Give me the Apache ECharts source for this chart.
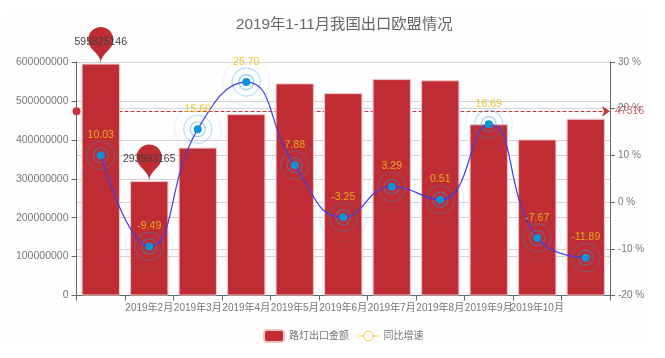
<!DOCTYPE html>
<html><head><meta charset="utf-8">
<script src="https://cdn.jsdelivr.net/npm/echarts@6/dist/echarts.min.js"></script>
<style>html,body{margin:0;padding:0;background:#fff}
#c{position:absolute;left:6px;top:10px;width:639px;height:333px;background:#fefefe}</style>
</head><body><div id="c"></div>
<script>
const categories = ['2019年1月','2019年2月','2019年3月','2019年4月','2019年5月','2019年6月','2019年7月','2019年8月','2019年9月','2019年10月','2019年11月'];
const exportValues = [595825146,293993165,380000000,466000000,545000000,520000000,556000000,553000000,440000000,401000000,454040000];
const growthValues = [10.03,-9.49,15.60,25.70,7.88,-3.25,3.29,0.51,16.69,-7.67,-11.89];
const barName = '路灯出口金额';
const lineName = '同比增速';
const font = '"Liberation Sans","Noto Sans CJK SC",sans-serif';
const rings = [[15,'rgba(30,160,225,.6)',1.2],[28,'rgba(30,160,225,.42)',1.1],[47,'rgba(30,160,225,.17)',1]];
const chart = echarts.init(document.getElementById('c'),null,{renderer:'canvas'});
chart.setOption({
  animation:false,
  textStyle:{fontFamily:font},
  title:{text:'2019年1-11月我国出口欧盟情况',left:225,top:2,textStyle:{fontSize:15.3,fontWeight:'normal',color:'#666',fontFamily:font}},
  legend:{top:314,left:252,itemWidth:20,itemHeight:12,itemGap:9,itemSymbolKeepAspect:true,textStyle:{color:'#777',fontSize:10},
    data:[{name:barName,icon:'roundRect'},
          {name:lineName,itemStyle:{color:'#fff',borderColor:'#f0c845',borderWidth:1},lineStyle:{color:'#f0c845',width:1}}]},
  grid:{left:70.5,right:35,top:52,bottom:47.5,outerBoundsMode:'none',containLabel:false},
  xAxis:{type:'category',data:categories,
    axisLine:{lineStyle:{color:'#666'}},axisTick:{show:true,alignWithLabel:false,lineStyle:{color:'#666'}},
    axisLabel:{interval:0,color:'#777',fontSize:10,margin:8,hideOverlap:false,
      formatter:(v,i)=>(i===0||i===categories.length-1)?'':v},splitLine:{show:false}},
  yAxis:[
    {type:'value',min:0,max:600000000,interval:100000000,
     axisLine:{show:true,lineStyle:{color:'#666'}},axisTick:{show:true,lineStyle:{color:'#666'}},
     axisLabel:{color:'#777',fontSize:10.5,formatter:v=>String(v)},splitLine:{show:true,lineStyle:{color:'#d5d0da'}}},
    {type:'value',min:-20,max:30,interval:10,
     axisLine:{show:true,lineStyle:{color:'#666'}},axisTick:{show:true,lineStyle:{color:'#666'}},
     axisLabel:{color:'#777',fontSize:10,formatter:'{value} %'},splitLine:{show:true,lineStyle:{color:'#d5d0da'}}}
  ],
  series:[
    {name:barName,type:'bar',data:exportValues,barWidth:'79%',z:2,
     itemStyle:{color:'#c02c34',borderColor:'#ecc4c8',borderWidth:1},
     markPoint:{symbol:'pin',symbolSize:42,itemStyle:{color:'#c02c34'},label:{color:'#3f3f3f',fontSize:10.5,formatter:p=>String(p.value)},
       data:[{type:'max',name:'max'},{type:'min',name:'min'}]},
     markLine:{z:1,symbol:['circle','arrow'],symbolSize:8,silent:true,lineStyle:{color:'#c8353b',type:'dashed',width:1},
       label:{position:'end',color:'rgba(205,70,75,.85)',fontSize:10.5},
       data:[{type:'average',name:'avg'}]}},
    ...rings.map((r,i)=>({name:'ring'+i,type:'scatter',yAxisIndex:1,data:growthValues,symbol:'circle',symbolSize:r[0],silent:true,z:3,
       itemStyle:{color:'rgba(0,0,0,0)',borderColor:r[1],borderWidth:r[2]}})),
    {name:lineName,type:'line',yAxisIndex:1,data:growthValues,smooth:true,symbol:'circle',symbolSize:8,showSymbol:true,z:4,
     lineStyle:{color:'#3c3cf0',width:1.2},itemStyle:{color:'#0b93d8'},
     label:{show:true,position:'top',distance:11,fontSize:10.5,color:'rgba(240,190,10,.85)',formatter:p=>p.value.toFixed(2)}}
  ]
});
</script></body></html>
